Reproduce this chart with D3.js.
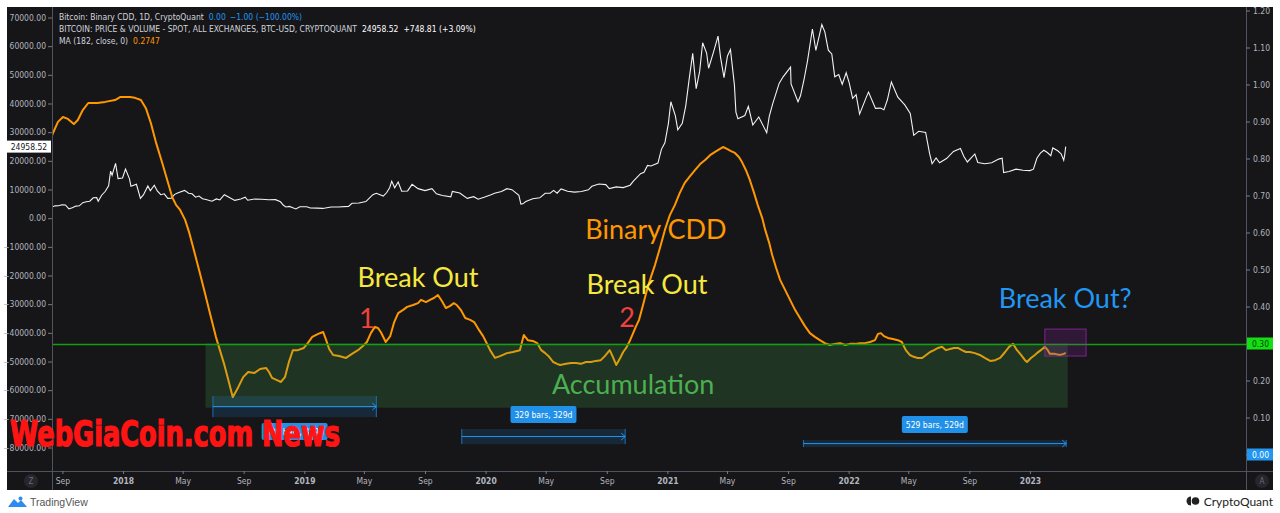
<!DOCTYPE html>
<html><head><meta charset="utf-8">
<script src="https://cdn.jsdelivr.net/npm/d3@7"></script>
<style>
body{margin:0;background:#fff;}
svg{display:block;}
.ax text{fill:#b2b5be;font-family:'Liberation Sans Narrow','DejaVu Sans Condensed',sans-serif;font-size:8.5px;}
.ax line{stroke:#787b86;}
.ax path{display:none;}
.note{font-family:Lato,'Open Sans',sans-serif;font-size:27px;}
</style>
</head><body>
<svg id="c" width="1280" height="513"></svg>
<script>
// ---------------- DATA ----------------
const priceDates = ["2017-08-11","2017-08-17","2017-08-24","2017-08-31","2017-09-07","2017-09-14","2017-09-21","2017-09-28","2017-10-05","2017-10-12","2017-10-19","2017-10-26","2017-11-02","2017-11-09","2017-11-12","2017-11-19","2017-11-26","2017-12-03","2017-12-07","2017-12-10","2017-12-17","2017-12-22","2017-12-31","2018-01-06","2018-01-14","2018-01-17","2018-01-28","2018-02-05","2018-02-11","2018-02-20","2018-02-25","2018-03-05","2018-03-11","2018-03-18","2018-03-25","2018-04-01","2018-04-08","2018-04-15","2018-04-22","2018-05-05","2018-05-13","2018-05-20","2018-05-27","2018-06-03","2018-06-10","2018-06-17","2018-06-29","2018-07-08","2018-07-15","2018-07-24","2018-08-05","2018-08-14","2018-08-26","2018-09-04","2018-09-09","2018-09-23","2018-10-07","2018-10-21","2018-11-04","2018-11-14","2018-11-20","2018-11-25","2018-12-02","2018-12-09","2018-12-15","2018-12-23","2019-01-06","2019-01-13","2019-01-27","2019-02-07","2019-02-24","2019-03-10","2019-03-31","2019-04-07","2019-04-21","2019-05-05","2019-05-12","2019-05-19","2019-05-26","2019-06-09","2019-06-16","2019-06-22","2019-06-26","2019-07-02","2019-07-09","2019-07-16","2019-07-28","2019-08-06","2019-08-18","2019-09-01","2019-09-15","2019-09-24","2019-10-06","2019-10-23","2019-10-26","2019-11-10","2019-11-25","2019-12-08","2019-12-17","2019-12-29","2020-01-12","2020-01-19","2020-02-02","2020-02-13","2020-02-23","2020-03-08","2020-03-12","2020-03-16","2020-03-22","2020-04-05","2020-04-19","2020-04-30","2020-05-10","2020-05-17","2020-05-24","2020-06-01","2020-06-14","2020-06-28","2020-07-12","2020-07-26","2020-08-02","2020-08-16","2020-08-30","2020-09-06","2020-09-20","2020-10-04","2020-10-18","2020-10-25","2020-11-08","2020-11-15","2020-11-22","2020-11-29","2020-12-13","2020-12-20","2020-12-27","2021-01-03","2021-01-08","2021-01-17","2021-01-22","2021-01-31","2021-02-07","2021-02-14","2021-02-21","2021-02-28","2021-03-07","2021-03-13","2021-03-21","2021-03-25","2021-04-04","2021-04-13","2021-04-18","2021-04-25","2021-05-02","2021-05-08","2021-05-16","2021-05-19","2021-05-23","2021-06-06","2021-06-13","2021-06-22","2021-07-04","2021-07-20","2021-07-25","2021-08-01","2021-08-14","2021-08-22","2021-09-06","2021-09-07","2021-09-21","2021-09-26","2021-10-03","2021-10-10","2021-10-20","2021-10-27","2021-11-08","2021-11-14","2021-11-21","2021-11-28","2021-12-04","2021-12-12","2021-12-19","2021-12-27","2022-01-02","2022-01-09","2022-01-16","2022-01-23","2022-02-06","2022-02-10","2022-02-24","2022-03-06","2022-03-13","2022-03-20","2022-03-28","2022-04-10","2022-04-24","2022-05-05","2022-05-12","2022-05-22","2022-06-05","2022-06-13","2022-06-18","2022-06-26","2022-07-03","2022-07-17","2022-07-31","2022-08-14","2022-08-21","2022-08-28","2022-09-12","2022-09-18","2022-10-02","2022-10-16","2022-10-30","2022-11-06","2022-11-09","2022-11-20","2022-12-04","2022-12-18","2023-01-01","2023-01-08","2023-01-15","2023-01-22","2023-01-29","2023-02-05","2023-02-12","2023-02-16","2023-02-26","2023-03-05","2023-03-10","2023-03-12","2023-03-14"];
const priceValues = [3880,4300,4320,4700,4600,3250,3600,4200,4300,5400,5700,5900,7100,7150,5900,8000,9300,11300,16400,15000,19100,13800,14000,17100,13700,11100,11800,6900,8100,11200,9600,11500,9500,8200,8500,6900,7000,8300,8900,9700,8700,8500,7300,7700,6800,6500,5900,6700,6350,8200,7000,6200,6700,7300,6250,6700,6600,6400,6450,5700,4500,3900,4100,3600,3200,4000,4000,3550,3500,3400,3900,3920,4100,5200,5300,5800,7000,8200,8700,7700,8950,10700,12900,10600,12600,9400,9500,11800,10300,9600,10300,8500,7900,7450,9300,8800,6900,7500,6600,7300,8200,8700,9300,10300,9950,8000,4900,5000,5800,6800,7100,8700,8700,9700,8700,10200,9400,9100,9300,9900,11100,11900,11700,10300,10900,10650,11500,13000,15500,16000,18400,18200,19200,24000,26300,33000,40600,35800,30800,33100,39200,48700,57500,45200,51200,61200,57600,52300,58000,63500,56200,49000,56600,58800,46400,37000,34700,35800,39000,32500,35300,29800,35400,39900,47000,49300,52700,46800,40600,42700,48200,54700,66000,58500,67500,65000,58600,57300,49300,50100,46700,50700,47300,41800,43100,36300,42400,44000,38300,38400,37800,41300,47500,42200,39500,36500,28900,30300,29900,22500,19000,21000,19300,20800,23300,24300,21500,19600,22400,19400,19000,19300,20600,20900,15900,16300,17100,16700,16600,17100,20900,22700,23700,22900,21800,24500,23500,22400,20200,22100,24958.52];

const cddDates = ["2017-08-11","2017-08-13","2017-08-23","2017-09-02","2017-09-12","2017-09-24","2017-10-02","2017-10-12","2017-10-23","2017-11-10","2017-11-26","2017-12-16","2017-12-26","2018-01-15","2018-01-25","2018-02-06","2018-02-16","2018-02-26","2018-03-08","2018-03-21","2018-03-31","2018-04-10","2018-04-18","2018-04-26","2018-05-06","2018-05-14","2018-05-22","2018-06-03","2018-06-15","2018-06-25","2018-07-07","2018-07-15","2018-07-23","2018-07-31","2018-08-10","2018-08-21","2018-08-31","2018-09-10","2018-09-22","2018-10-04","2018-10-16","2018-10-22","2018-10-28","2018-11-07","2018-11-15","2018-11-23","2018-12-01","2018-12-09","2018-12-19","2018-12-31","2019-01-08","2019-01-17","2019-01-29","2019-02-08","2019-02-14","2019-02-20","2019-02-28","2019-03-12","2019-03-26","2019-04-07","2019-04-19","2019-04-29","2019-05-07","2019-05-15","2019-05-23","2019-05-29","2019-06-04","2019-06-14","2019-06-23","2019-07-01","2019-07-09","2019-07-19","2019-07-27","2019-08-08","2019-08-18","2019-08-24","2019-09-03","2019-09-11","2019-09-19","2019-09-27","2019-10-05","2019-10-13","2019-10-21","2019-10-29","2019-11-04","2019-11-12","2019-11-21","2019-12-01","2019-12-09","2019-12-19","2019-12-27","2020-01-02","2020-01-10","2020-01-20","2020-01-30","2020-02-13","2020-02-25","2020-03-10","2020-03-18","2020-03-26","2020-04-05","2020-04-14","2020-04-22","2020-04-30","2020-05-08","2020-05-16","2020-05-24","2020-05-30","2020-06-11","2020-06-21","2020-07-01","2020-07-11","2020-07-21","2020-07-31","2020-08-10","2020-08-20","2020-08-28","2020-09-07","2020-09-14","2020-09-20","2020-09-28","2020-10-04","2020-10-10","2020-10-18","2020-10-24","2020-10-30","2020-11-05","2020-11-13","2020-11-21","2020-11-29","2020-12-07","2020-12-17","2020-12-27","2021-01-06","2021-01-16","2021-01-26","2021-02-05","2021-02-16","2021-02-26","2021-03-08","2021-03-18","2021-03-28","2021-04-07","2021-04-17","2021-04-23","2021-05-01","2021-05-09","2021-05-17","2021-05-25","2021-05-31","2021-06-08","2021-06-16","2021-06-24","2021-07-02","2021-07-11","2021-07-17","2021-07-25","2021-07-31","2021-08-08","2021-08-16","2021-08-26","2021-09-05","2021-09-15","2021-09-25","2021-10-05","2021-10-15","2021-10-25","2021-11-04","2021-11-14","2021-11-24","2021-12-04","2021-12-15","2021-12-25","2022-01-04","2022-01-14","2022-01-24","2022-02-03","2022-02-13","2022-02-23","2022-03-01","2022-03-07","2022-03-13","2022-03-21","2022-03-31","2022-04-10","2022-04-18","2022-04-26","2022-05-04","2022-05-12","2022-05-20","2022-05-29","2022-06-06","2022-06-14","2022-06-22","2022-06-30","2022-07-08","2022-07-16","2022-07-24","2022-08-01","2022-08-09","2022-08-17","2022-08-25","2022-09-02","2022-09-12","2022-09-22","2022-10-02","2022-10-13","2022-10-23","2022-11-02","2022-11-12","2022-11-20","2022-11-28","2022-12-06","2022-12-14","2022-12-22","2022-12-26","2023-01-03","2023-01-11","2023-01-15","2023-01-23","2023-01-31","2023-02-06","2023-02-10","2023-02-20","2023-03-02","2023-03-10","2023-03-14"];
const cddValues = [0.862,0.869,0.899,0.912,0.907,0.893,0.904,0.931,0.950,0.950,0.953,0.958,0.966,0.966,0.964,0.958,0.936,0.896,0.845,0.788,0.742,0.696,0.674,0.661,0.634,0.601,0.561,0.499,0.436,0.382,0.318,0.282,0.247,0.207,0.155,0.182,0.209,0.223,0.220,0.231,0.234,0.223,0.207,0.201,0.196,0.209,0.250,0.282,0.282,0.288,0.301,0.318,0.326,0.331,0.309,0.285,0.269,0.266,0.261,0.272,0.282,0.293,0.304,0.328,0.345,0.342,0.331,0.304,0.320,0.358,0.382,0.391,0.399,0.404,0.409,0.418,0.412,0.418,0.423,0.431,0.415,0.396,0.401,0.409,0.404,0.391,0.369,0.364,0.358,0.336,0.320,0.304,0.282,0.261,0.266,0.274,0.277,0.282,0.323,0.309,0.307,0.301,0.282,0.274,0.264,0.250,0.245,0.242,0.245,0.247,0.247,0.245,0.250,0.250,0.253,0.255,0.266,0.282,0.261,0.242,0.261,0.277,0.288,0.309,0.328,0.347,0.364,0.404,0.445,0.480,0.512,0.558,0.607,0.647,0.674,0.707,0.734,0.753,0.769,0.785,0.796,0.809,0.818,0.826,0.831,0.826,0.820,0.815,0.804,0.791,0.769,0.742,0.709,0.674,0.639,0.607,0.572,0.539,0.504,0.472,0.445,0.418,0.391,0.369,0.347,0.328,0.318,0.309,0.301,0.296,0.299,0.301,0.296,0.299,0.299,0.301,0.301,0.304,0.309,0.326,0.328,0.320,0.315,0.312,0.309,0.304,0.282,0.269,0.264,0.261,0.261,0.269,0.277,0.282,0.288,0.291,0.282,0.285,0.288,0.288,0.282,0.277,0.277,0.274,0.269,0.261,0.253,0.255,0.261,0.277,0.291,0.299,0.282,0.269,0.255,0.250,0.261,0.269,0.274,0.282,0.291,0.282,0.272,0.272,0.269,0.272,0.2747];

const leftTicks = [70000,60000,50000,40000,30000,20000,10000,0,-10000,-20000,-30000,-40000,-50000,-60000,-70000,-80000];
const rightTicks = [1.2,1.1,1.0,0.9,0.8,0.7,0.6,0.5,0.4,0.3,0.2,0.1,0.0];
const xTickDates = ["2017-09-01","2018-01-01","2018-05-01","2018-09-01","2019-01-01","2019-05-01","2019-09-01","2020-01-01","2020-05-01","2020-09-01","2021-01-01","2021-05-01","2021-09-01","2022-01-01","2022-05-01","2022-09-01","2023-01-01"];
const xTickLabels = ["Sep","2018","May","Sep","2019","May","Sep","2020","May","Sep","2021","May","Sep","2022","May","Sep","2023"];

const lastPrice = 24958.52;
const levelValue = 0.30;

// drawings (anchored in data space: date + right-axis value)
const accumBox = {start:"2018-06-16", end:"2023-03-18", top:0.30, bottom:0.1265};
const purpleBox = {start:"2023-01-31", end:"2023-04-24", top:0.339, bottom:0.266};
const ranges = [
  {start:"2018-07-01", end:"2019-05-26", top:0.158, bottom:0.101, label:"329 bars, 329d", labelAt:0.062},
  {start:"2019-11-14", end:"2020-10-08", top:0.069, bottom:0.028, label:"329 bars, 329d", labelAt:0.108},
  {start:"2021-10-02", end:"2023-03-15", top:0.039, bottom:0.020, label:"529 bars, 529d", labelAt:0.081}
];
const notes = [
  {text:"Break Out", date:"2019-08-18", value:0.480, color:"#f7e83f", size:27},
  {text:"1", date:"2019-05-07", value:0.369, color:"#f0433a", size:29},
  {text:"Binary CDD", date:"2020-12-09", value:0.612, color:"#ff9800", size:27},
  {text:"Break Out", date:"2020-11-21", value:0.461, color:"#f7e83f", size:27},
  {text:"2", date:"2020-10-12", value:0.374, color:"#f0433a", size:29},
  {text:"Break Out?", date:"2023-03-13", value:0.423, color:"#2196f3", size:27},
  {text:"Accumulation", date:"2020-10-24", value:0.193, color:"#4caf50", size:27}
];

// ---------------- LAYOUT ----------------
const frame = {l:7, r:1273, t:7, b:490};
const plot = {l:52, r:1246, t:7, b:471};
const AXF = "'Liberation Sans Narrow','DejaVu Sans Condensed',sans-serif";
const parse = d3.utcParse("%Y-%m-%d");

const x = d3.scaleUtc().domain([parse("2017-08-11"), parse("2024-03-11")]).range([plot.l, plot.r]);
const yL = d3.scaleLinear().domain([-80000, 70000]).range([447.5, 17.5]);
const yR = d3.scaleLinear().domain([0, 1.2]).range([454.5, 10.5]);

const svg = d3.select("#c");
svg.append("rect").attr("x", frame.l).attr("y", frame.t).attr("width", frame.r - frame.l).attr("height", frame.b - frame.t).attr("fill", "#161619");

const defs = svg.append("defs");
defs.append("clipPath").attr("id", "clip").append("rect")
  .attr("x", plot.l).attr("y", plot.t).attr("width", plot.r - plot.l).attr("height", plot.b - plot.t);

const g = svg.append("g").attr("clip-path", "url(#clip)");

// price line
const priceData = priceDates.map((d, i) => ({d: parse(d), v: priceValues[i]}));
g.append("path").datum(priceData)
  .attr("fill", "none").attr("stroke", "#f2f2f2").attr("stroke-width", 1.1)
  .attr("d", d3.line().x(p => x(p.d)).y(p => yL(p.v)));

// cdd MA line
const cddData = cddDates.map((d, i) => ({d: parse(d), v: cddValues[i]}));
g.append("path").datum(cddData)
  .attr("fill", "none").attr("stroke", "#ff9800").attr("stroke-width", 2).attr("stroke-linejoin", "round")
  .attr("d", d3.line().x(p => x(p.d)).y(p => yR(p.v)));

// accumulation box
g.append("rect")
  .attr("x", x(parse(accumBox.start))).attr("y", yR(accumBox.top))
  .attr("width", x(parse(accumBox.end)) - x(parse(accumBox.start)))
  .attr("height", yR(accumBox.bottom) - yR(accumBox.top))
  .attr("fill", "rgba(76,175,80,0.2)");

// horizontal level line
const lvLineY = Math.round(yR(levelValue)) + 0.5;
g.append("line").attr("x1", plot.l).attr("x2", plot.r)
  .attr("y1", lvLineY).attr("y2", lvLineY)
  .attr("stroke", "#10a010").attr("stroke-width", 1.3);

// date ranges
ranges.forEach(r => {
  const x0 = x(parse(r.start)), x1 = x(parse(r.end));
  const y0 = yR(r.top), y1 = yR(r.bottom), ym = (y0 + y1) / 2;
  g.append("rect").attr("x", x0).attr("y", y0).attr("width", x1 - x0).attr("height", y1 - y0)
    .attr("fill", "rgba(33,150,243,0.15)");
  g.append("line").attr("x1", x0).attr("x2", x0).attr("y1", y0).attr("y2", y1).attr("stroke", "#1e6fb8").attr("stroke-width", 1);
  g.append("line").attr("x1", x1).attr("x2", x1).attr("y1", y0).attr("y2", y1).attr("stroke", "#1e6fb8").attr("stroke-width", 1);
  g.append("line").attr("x1", x0).attr("x2", x1).attr("y1", ym).attr("y2", ym).attr("stroke", "#2196f3").attr("stroke-width", 1);
  g.append("path").attr("d", `M${x1 - 4},${ym - 3.5}L${x1},${ym}L${x1 - 4},${ym + 3.5}`)
    .attr("fill", "none").attr("stroke", "#2196f3").attr("stroke-width", 1);
  const cx = (x0 + x1) / 2, cy = yR(r.labelAt);
  g.append("rect").attr("x", cx - 33).attr("y", cy - 8.5).attr("width", 66).attr("height", 17).attr("rx", 2)
    .attr("fill", "#2190e8");
  g.append("text").attr("x", cx).attr("y", cy).attr("text-anchor", "middle").attr("dominant-baseline", "central")
    .attr("fill", "#ffffff").attr("font-family", AXF).attr("font-size", 8.5).text(r.label);
});

// purple box
g.append("rect")
  .attr("x", x(parse(purpleBox.start))).attr("y", yR(purpleBox.top))
  .attr("width", x(parse(purpleBox.end)) - x(parse(purpleBox.start)))
  .attr("height", yR(purpleBox.bottom) - yR(purpleBox.top))
  .attr("fill", "rgba(156,39,176,0.2)").attr("stroke", "rgba(156,39,176,0.75)").attr("stroke-width", 1);

// notes
notes.forEach(n => {
  g.append("text").attr("class", "note")
    .attr("x", x(parse(n.date))).attr("y", yR(n.value))
    .attr("text-anchor", "middle").attr("dominant-baseline", "central")
    .attr("fill", n.color).attr("font-size", n.size).text(n.text);
});

// ---------------- AXES ----------------
svg.append("line").attr("x1", plot.l + 0.5).attr("x2", plot.l + 0.5).attr("y1", frame.t).attr("y2", frame.b).attr("stroke", "#50535e");
svg.append("line").attr("x1", plot.r + 0.5).attr("x2", plot.r + 0.5).attr("y1", frame.t).attr("y2", frame.b).attr("stroke", "#50535e");
svg.append("line").attr("x1", frame.l).attr("x2", frame.r).attr("y1", plot.b + 0.5).attr("y2", plot.b + 0.5).attr("stroke", "#50535e");

const fmt = d3.format(".2f");
svg.append("g").attr("class", "ax").attr("transform", `translate(${plot.l},0)`)
  .call(d3.axisLeft(yL).tickValues(leftTicks).tickFormat(fmt).tickSize(4).tickPadding(2));
svg.append("g").attr("class", "ax").attr("transform", `translate(${plot.r},0)`)
  .call(d3.axisRight(yR).tickValues(rightTicks).tickFormat(fmt).tickSize(4).tickPadding(3));
const axB = svg.append("g").attr("class", "ax").attr("transform", `translate(0,${plot.b})`)
  .call(d3.axisBottom(x).tickValues(xTickDates.map(parse)).tickFormat((d, i) => xTickLabels[i]).tickSize(3).tickPadding(4));
axB.selectAll("text").attr("font-weight", (d, i) => /^\d{4}$/.test(xTickLabels[i]) ? "bold" : "normal");

// last price label (left)
const lpY = yL(lastPrice);
svg.append("rect").attr("x", frame.l).attr("y", lpY - 6).attr("width", plot.l - frame.l - 1).attr("height", 12).attr("fill", "#ffffff");
svg.append("text").attr("x", 29).attr("y", lpY).attr("text-anchor", "middle").attr("dominant-baseline", "central")
  .attr("fill", "#131722").attr("font-family", AXF).attr("font-size", 8.5).text(fmt(lastPrice));

// level label (right)
const lvY = yR(levelValue);
svg.append("rect").attr("x", plot.r + 1).attr("y", lvY - 6).attr("width", frame.r - plot.r - 1).attr("height", 12).attr("fill", "#12e012");
svg.append("text").attr("x", plot.r + 6).attr("y", lvY).attr("dominant-baseline", "central")
  .attr("fill", "#0d3d0d").attr("font-family", AXF).attr("font-size", 8.5).text(fmt(levelValue));

// series value label (right)
const zY = yR(0);
svg.append("rect").attr("x", plot.r + 1).attr("y", zY - 6).attr("width", frame.r - plot.r - 1).attr("height", 12).attr("fill", "#2196f3");
svg.append("text").attr("x", plot.r + 6).attr("y", zY).attr("dominant-baseline", "central")
  .attr("fill", "#ffffff").attr("font-family", AXF).attr("font-size", 8.5).text(fmt(0));

// corner buttons
[[31, "Z"], [1262, "A"]].forEach(([cx, t]) => {
  svg.append("circle").attr("cx", cx).attr("cy", 481).attr("r", 7).attr("fill", "#26262c");
  svg.append("text").attr("x", cx).attr("y", 481).attr("text-anchor", "middle").attr("dominant-baseline", "central")
    .attr("fill", "#6a6d78").attr("font-family", AXF).attr("font-size", 8).text(t);
});

// ---------------- LEGEND ----------------
const leg = svg.append("g").attr("font-family", AXF).attr("font-size", 8.5);
const l1 = leg.append("text").attr("x", 59).attr("y", 20);
l1.append("tspan").attr("fill", "#d1d4dc").text("Bitcoin: Binary CDD, 1D, CryptoQuant");
l1.append("tspan").attr("dx", 5).attr("fill", "#2196f3").text("0.00");
l1.append("tspan").attr("dx", 4).attr("fill", "#2196f3").text("\u22121.00 (\u2212100.00%)");
const l2 = leg.append("text").attr("x", 59).attr("y", 32);
l2.append("tspan").attr("fill", "#d1d4dc").text("BITCOIN: PRICE & VOLUME - SPOT, ALL EXCHANGES, BTC-USD, CRYPTOQUANT");
l2.append("tspan").attr("dx", 5).attr("fill", "#ffffff").text(fmt(lastPrice));
l2.append("tspan").attr("dx", 5).attr("fill", "#ffffff").text("+748.81 (+3.09%)");
const l3 = leg.append("text").attr("x", 59).attr("y", 44);
l3.append("tspan").attr("fill", "#d1d4dc").text("MA (182, close, 0)");
l3.append("tspan").attr("dx", 5).attr("fill", "#ff9800").text("0.2747");

// ---------------- WATERMARK ----------------
svg.append("text").attr("x", 10).attr("y", 446)
  .attr("textLength", 330).attr("lengthAdjust", "spacingAndGlyphs")
  .attr("font-family", "'DejaVu Sans Condensed','Liberation Sans Narrow',sans-serif")
  .attr("font-weight", "bold").attr("font-size", 35)
  .attr("fill", "#ff1414").attr("stroke", "#ff1414").attr("stroke-width", 1.2)
  .text("WebGiaCoin.com News");

// ---------------- FOOTER ----------------
svg.append("path").attr("d", "M8,507 L14,499 L18,503 L21,500 L27,507 Z").attr("fill", "#2d8cf0");
svg.append("circle").attr("cx", 20.5).attr("cy", 498.5).attr("r", 2).attr("fill", "#2d8cf0");
svg.append("text").attr("x", 30).attr("y", 506).attr("font-family", "'Liberation Sans Narrow',sans-serif")
  .attr("font-size", 10.5).attr("fill", "#555").text("TradingView");
svg.append("path").attr("d", "M1191,496.5 A4.5,4.5 0 0 0 1191,505.5 Z").attr("fill", "#222");
svg.append("circle").attr("cx", 1196), svg.append("circle").attr("cx", 1195.5).attr("cy", 501).attr("r", 3.8).attr("fill", "#222");
svg.append("text").attr("x", 1273).attr("y", 505.5).attr("text-anchor", "end").attr("font-family", "Lato,'Open Sans',sans-serif")
  .attr("font-size", 12).attr("fill", "#222").text("CryptoQuant");
</script>
</body></html>
